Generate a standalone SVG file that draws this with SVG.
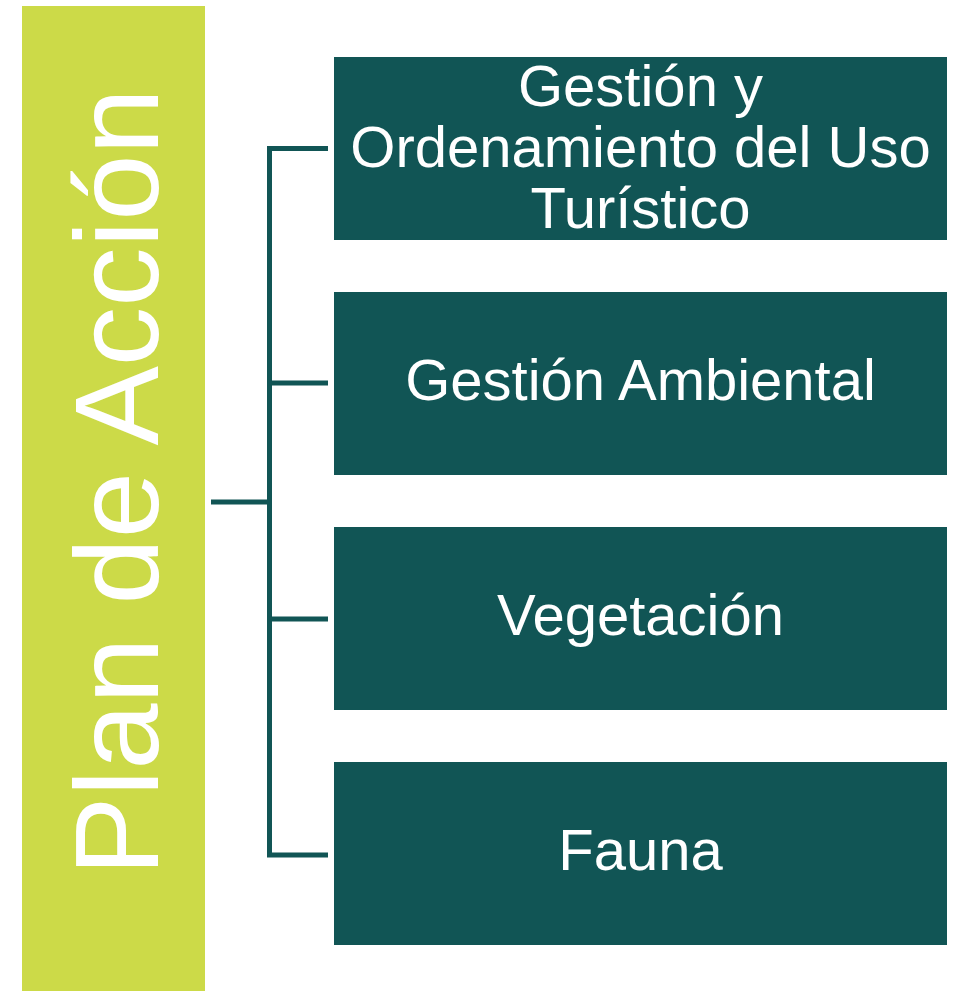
<svg xmlns="http://www.w3.org/2000/svg" width="956" height="991" viewBox="0 0 956 991">
<style>
.box{fill:#115555}
.t{fill:#ffffff;font-family:"Liberation Sans",Arial,sans-serif;text-anchor:middle}
.c{fill:none;stroke:#115555;stroke-width:5}
</style>
<rect width="956" height="991" fill="#ffffff"/>
<g id="root">
<rect x="22" y="6" width="183" height="985" fill="#CCDA48"/>
<text class="t" font-size="119" transform="translate(158,482) rotate(-90)" x="0" y="0">Plan de Acción</text>
</g>
<g id="connectors">
<path class="c" d="M211,502 H269.5"/>
<path class="c" d="M328,148.5 H269.5 V855 H328"/>
<path class="c" d="M269.5,383 H328"/>
<path class="c" d="M269.5,619 H328"/>
</g>
<g id="n1">
<rect class="box" x="334" y="57" width="613" height="183"/>
<text class="t" font-size="58"><tspan x="640.5" y="106">Gestión y</tspan><tspan x="640.5" y="167">Ordenamiento del Uso</tspan><tspan x="640.5" y="228">Turístico</tspan></text>
</g>
<g id="n2">
<rect class="box" x="334" y="292" width="613" height="183"/>
<text class="t" font-size="58" x="640.5" y="400">Gestión Ambiental</text>
</g>
<g id="n3">
<rect class="box" x="334" y="527" width="613" height="183"/>
<text class="t" font-size="58" x="640.5" y="635">Vegetación</text>
</g>
<g id="n4">
<rect class="box" x="334" y="762" width="613" height="183"/>
<text class="t" font-size="58" x="640.5" y="870">Fauna</text>
</g>
</svg>
